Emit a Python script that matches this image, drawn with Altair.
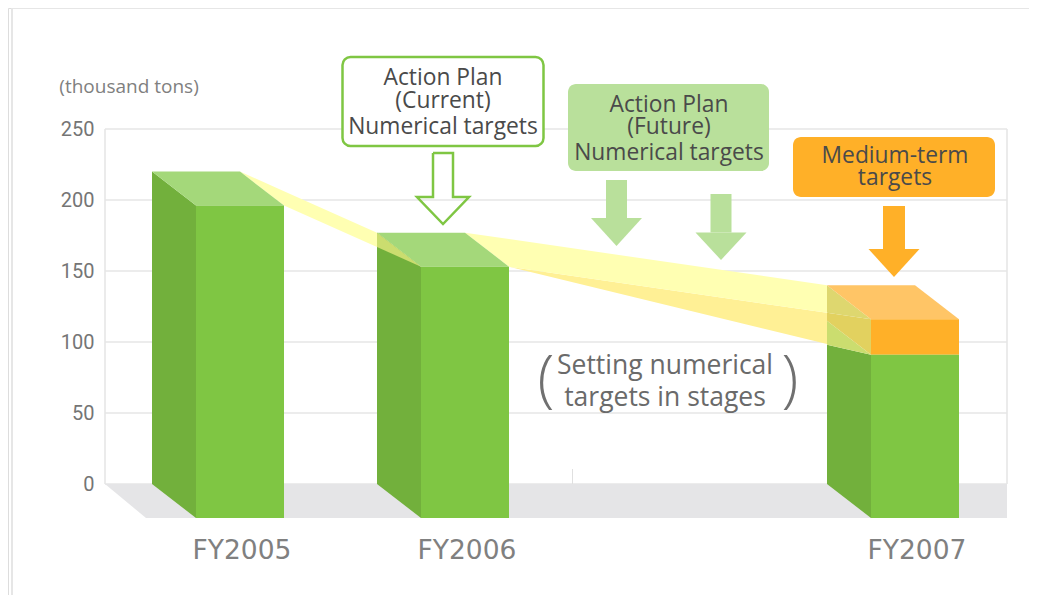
import altair as alt
import pandas as pd

# ---- values ----
fiscal_years = ["FY2005", "FY2006", "FY2007"]
stages = [0, 1, 3]                 # FY2007 sits two steps after FY2006
bar_values = [220, 177, 140]       # thousand tons, top of each column
green_2007 = 115                   # green part of the FY2007 column
tint_2007 = 98                     # where the band meets the FY2007 green side
tick_values = [0, 50, 100, 150, 200, 250]
unit_label = "(thousand tons)"
callouts = [["Action Plan", "(Current)", "Numerical targets"],
            ["Action Plan", "(Future)", "Numerical targets"],
            ["Medium-term", "targets"]]
note_lines = ["Setting numerical", "targets in stages"]

# ---- colours ----
GREEN, GREEN_SIDE, GREEN_TOP = "#7fc643", "#72b03c", "#a4d87a"
ORANGE, ORANGE_TOP = "#ffb028", "#ffc566"
PALE_GREEN = "#b9e09b"
BAND, BAND_DARK = "#ffffb2", "#fff095"
TINT_GREEN, TINT_A, TINT_B = "#cbdd6f", "#ded76f", "#e2d15f"
GRID, FLOOR = "#e6e6e6", "#e5e5e7"

# ---- layout scales: x in layout units, y in thousand tons ----
W, H = 1021, 587
PX = 1.42                               # pixels per thousand tons
ZERO = 484                              # layout row of the zero line
x_scale = alt.Scale(domain=[8, 8 + W], range=[0, W], nice=False, zero=False)
y_scale = alt.Scale(domain=[(ZERO - 8 - H) / PX, (ZERO - 8) / PX], nice=False, zero=False)
y_axis = alt.Axis(values=tick_values, offset=-97, domain=False, ticks=False, grid=False, title=None,
                  labelFont="Roboto", labelFontSize=20, labelColor="#757575", labelPadding=11)
XE = alt.X("x:Q", scale=x_scale, axis=None)
YE = alt.Y("y:Q", scale=y_scale, axis=y_axis)


def v(row):
    """value on the thousand-ton scale for a layout row"""
    return (ZERO - row) / PX


DEPTH_X, DEPTH_V = 44, 34 / PX
BAR_W, STEP, FIRST = 88, 225, 196
FLOOR_V = -DEPTH_V
FRONT = [FIRST + STEP * s for s in stages]
layers = []


def poly(rows, color):
    df = pd.DataFrame(rows, columns=["x", "y", "y2"])
    layers.append(alt.Chart(df).mark_area(color=color, opacity=1, interpolate="linear", line=False)
                  .encode(x=XE, y=YE, y2="y2:Q"))


def rect(x0, x1, y0, y1, color, stroke=None, sw=0, radius=0):
    df = pd.DataFrame([dict(x=x0, x2=x1, y=y0, y2=y1)])
    kw = dict(stroke=stroke, strokeWidth=sw) if stroke else {}
    layers.append(alt.Chart(df).mark_rect(color=color, cornerRadius=radius, **kw)
                  .encode(x=XE, x2="x2:Q", y=YE, y2="y2:Q"))


def hrule(x0, x1, y, color=GRID, sw=1.6):
    df = pd.DataFrame([dict(x=x0, x2=x1, y=y)])
    layers.append(alt.Chart(df).mark_rule(color=color, strokeWidth=sw).encode(x=XE, x2="x2:Q", y=YE))


def vrule(x, y0, y1, color=GRID, sw=1.6):
    df = pd.DataFrame([dict(x=x, y=y0, y2=y1)])
    layers.append(alt.Chart(df).mark_rule(color=color, strokeWidth=sw).encode(x=XE, y=YE, y2="y2:Q"))


def text(x, row, s, size, color, font, weight="normal"):
    df = pd.DataFrame([dict(x=x, y=v(row), t=s)])
    layers.append(alt.Chart(df).mark_text(fontSize=size, color=color, font=font, fontWeight=weight,
                                          align="center", baseline="middle")
                  .encode(x=XE, y=YE, text="t:N"))


def arrow(cx, shaft, top, head_row, head, tip, color):
    rect(cx - shaft, cx + shaft, v(top), v(head_row), color)
    poly([(cx - head, v(head_row), v(head_row)),
          (cx, v(head_row), v(tip)),
          (cx + head, v(head_row), v(head_row))], color)


# ---- frame, grid, floor ----
hrule(12, 8 + W, v(8), sw=2)
vrule(12, v(8), v(8 + H), sw=2)
tick_frame = pd.DataFrame({"y": tick_values, "x": [105] * len(tick_values), "x2": [1007] * len(tick_values)})
layers.append(alt.Chart(tick_frame).mark_rule(color=GRID, strokeWidth=1.6).encode(x=XE, x2="x2:Q", y=YE))
vrule(105, 0, tick_values[-1])
vrule(1007, 0, tick_values[-1])
vrule(572.5, 0, v(469), color="#e0e0e0", sw=1)
poly([(105, 0, 0), (105 + 41, 0, FLOOR_V), (1007, 0, FLOOR_V)], FLOOR)

# ---- yellow bands ----
def on(x, x0, y0, x1, y1):
    return y0 + (y1 - y0) * (x - x0) / (x1 - x0)


top0, top1, top2 = bar_values
fr0, fr1 = top0 - DEPTH_V, top1 - DEPTH_V
b0, b1, b2 = FRONT[0] - DEPTH_X, FRONT[1] - DEPTH_X, FRONT[2] - DEPTH_X
r0, r1 = FRONT[0] + BAR_W, FRONT[1] + BAR_W
i0, i1 = b0 + BAR_W, b1 + BAR_W
mid_v = on(b1, r0, fr0, FRONT[1], fr1)
poly([(i0, top0, top0), (r0, on(r0, i0, top0, b1, top1), fr0), (b1, top1, mid_v)], BAND)
top2_front = top2 - DEPTH_V
mid_a = on(b2, r1, fr1, FRONT[2], top2_front)
mid_b = on(b2, r1, fr1, FRONT[2], green_2007 - DEPTH_V)
poly([(r1, fr1, fr1), (b2, mid_a, mid_b)], BAND_DARK)
poly([(i1, top1, top1), (r1, on(r1, i1, top1, b2, top2), fr1), (b2, top2, mid_a)], BAND)

# ---- columns ----
for i, s in enumerate(stages):
    f, t = FRONT[i], bar_values[i]
    b = f - DEPTH_X
    if i < 2:
        poly([(b, t, 0), (f, t - DEPTH_V, FLOOR_V)], GREEN_SIDE)
        poly([(b, t, t), (f, t, t - DEPTH_V), (b + BAR_W, t, t - DEPTH_V), (f + BAR_W, t - DEPTH_V, t - DEPTH_V)], GREEN_TOP)
        rect(f, f + BAR_W, t - DEPTH_V, FLOOR_V, GREEN)
    else:
        g = green_2007
        poly([(b, tint_2007, 0), (f, g - DEPTH_V, FLOOR_V)], GREEN_SIDE)
        poly([(b, g, tint_2007), (f, g - DEPTH_V, g - DEPTH_V)], TINT_GREEN)
        poly([(b, mid_a, g), (f, t - DEPTH_V, g - DEPTH_V)], TINT_B)
        poly([(b, t, mid_a), (f, t - DEPTH_V, t - DEPTH_V)], TINT_A)
        poly([(b, t, t), (f, t, t - DEPTH_V), (b + BAR_W, t, t - DEPTH_V), (f + BAR_W, t - DEPTH_V, t - DEPTH_V)], ORANGE_TOP)
        rect(f, f + BAR_W, t - DEPTH_V, g - DEPTH_V, ORANGE)
        rect(f, f + BAR_W, g - DEPTH_V, FLOOR_V, GREEN)

# tint where the first band crosses the FY2006 side
poly([(b1, top1, mid_v), (FRONT[1], fr1, fr1)], TINT_GREEN)

# ---- callouts and arrows ----
MAIN = "Open Sans"
rect(342.5, 543.5, v(57), v(146), "#ffffff", stroke=GREEN, sw=2.5, radius=8)
rect(568, 769, v(84), v(171), PALE_GREEN, radius=8)
rect(793, 995, v(137), v(197), ORANGE, radius=8)
for (cx, rows, lines) in [(443, [78, 100.5, 126.5], callouts[0]),
                          (669, [104.5, 127, 153], callouts[1]),
                          (895, [156, 178], callouts[2])]:
    for r, s in zip(rows, lines):
        text(cx, r, s, 22.8, "#4a4a4a", MAIN)

# outlined arrow
cx, sh, hd = 443, 10, 26
outline = pd.DataFrame({
    "x": [cx - sh, cx + sh, cx + sh, cx + hd, cx, cx - hd, cx - sh, cx - sh],
    "y": [v(153), v(153), v(197), v(197), v(224), v(197), v(197), v(153)],
    "o": list(range(8))})
layers.append(alt.Chart(outline).mark_line(color=GREEN, strokeWidth=2.5)
              .encode(x=XE, y=YE, order="o:Q"))
arrow(616.5, 10.5, 180, 218, 25.5, 246, PALE_GREEN)
arrow(721, 10.5, 194, 232.5, 25.5, 260, PALE_GREEN)
arrow(894, 11, 206, 249, 25.5, 277, ORANGE)

# ---- remaining text ----
text(129, 87, unit_label, 19, "#808080", MAIN)
for r, s in zip([366, 398], note_lines):
    text(665, r, s, 26.5, "#6a6a6a", MAIN)
text(546, 381, "(", 62, "#707070", MAIN, 300)
text(790, 381, ")", 62, "#707070", MAIN, 300)
for f, s in zip(FRONT, fiscal_years):
    text(f + 46, 551, s, 26.5, "#808080", "DejaVu Sans")

chart = alt.layer(*layers).properties(
    width=W, height=H, padding=0, autosize=alt.AutoSizeParams(type="none")
).configure_view(stroke=None).configure(background="#ffffff")
chart.save("out.html", embed_options={"renderer": "svg", "actions": False})
